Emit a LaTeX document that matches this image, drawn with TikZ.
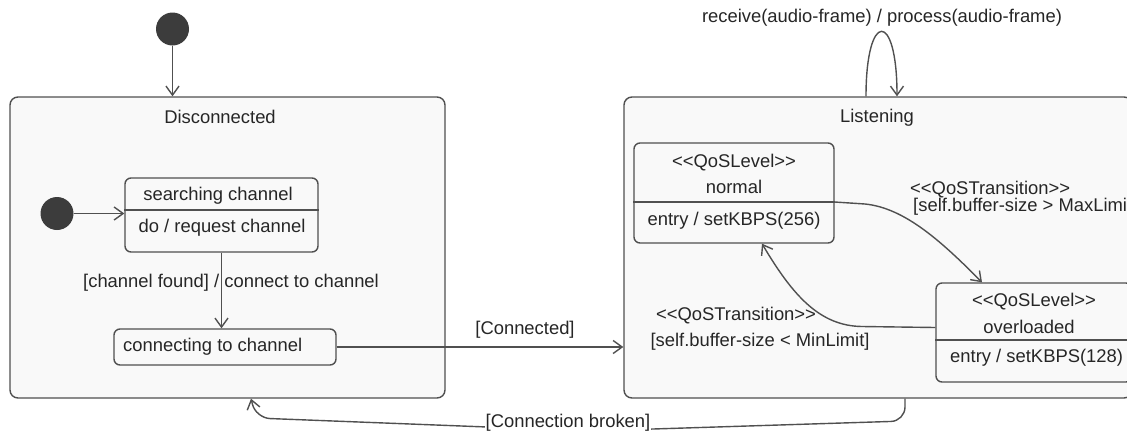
\documentclass[tikz,border=0pt]{standalone}
\usepackage{fontspec}
\setmainfont{Liberation Sans}
\usetikzlibrary{arrows.meta,calc}
\definecolor{edge}{HTML}{505050}
\definecolor{ink}{HTML}{262626}
\definecolor{boxfill}{HTML}{F9F9F9}
\definecolor{dot}{HTML}{3C3C3C}
\tikzset{
  x=1pt, y=-1pt,
  every node/.style={font=\fontsize{18.4}{21}\selectfont, text=ink, inner sep=0pt},
  statebox/.style={draw=edge, line width=1.4pt, fill=boxfill, rounded corners=8pt},
  substate/.style={draw=edge, line width=1.4pt, fill=boxfill, rounded corners=6pt},
  initdot/.style={circle, fill=dot, minimum size=33pt},
  divider/.style={draw=edge, line width=1.3pt},
  arr/.style={draw=edge, line width=1.4pt, -{Straight Barb[length=9pt,width=13pt,line width=1.4pt]}},
  lbl/.style={fill=white, inner sep=1pt},
}
\begin{document}
\begin{tikzpicture}
\useasboundingbox (0,0) rectangle (1127,432);
\clip (0,0) rectangle (1127,432);
\fill[white] (0,0) rectangle (1127,432);

% composite states
\node[statebox, minimum width=435pt, minimum height=301pt] (disc) at (227.5,247.5) {};
\node[statebox, minimum width=508pt, minimum height=301pt] (listen) at (878,247.5) {};
\node at (220,117) {Disconnected};
\node at (877,118) {Listening};

% initial pseudostates
\node[initdot] (init1) at (172.5,29) {};
\node[initdot] (init2) at (57,213.5) {};

% substates of Disconnected
\node[substate, minimum width=193pt, minimum height=74pt] (search) at (221.5,215) {};
\draw[divider] (search.west |- 0,210) -- (search.east |- 0,210);
\node at (218,196) {searching channel};
\node at (222,228) {do / request channel};

\node[substate, minimum width=222pt, minimum height=36pt] (conn) at (225,347) {};
\node[anchor=west] at (123,347) {connecting to channel};

% substates of Listening
\node[substate, minimum width=200pt, minimum height=100pt] (normal) at (734,193) {};
\draw[divider] (normal.west |- 0,202) -- (normal.east |- 0,202);
\node at (734,163) {<{}<QoSLevel>{}>};
\node at (734,187) {normal};
\node at (734,221) {entry / setKBPS(256)};

\node[substate, minimum width=196pt, minimum height=99pt] (over) at (1034,332.5) {};
\draw[divider] (over.west |- 0,340) -- (over.east |- 0,340);
\node at (1034,302) {<{}<QoSLevel>{}>};
\node at (1029,327) {overloaded};
\node[anchor=west] at (950,358) {entry / setKBPS(128)};

% transitions
\draw[arr] (init1) -- (init1 |- disc.north);
\draw[arr] (init2) -- (init2 -| search.west);
\draw[arr] (search.south) -- (search.south |- conn.north);
\node[anchor=west] at (83,283) {[channel found] / connect to channel};

\draw[arr] (conn.east) -- (conn.east -| listen.west);
\node at (525,330) {[Connected]};

\draw[arr] ($(listen.north)+(-12,0)$) .. controls (866,10) and (897,10) .. ($(listen.north)+(19,0)$);
\node at (882,18) {receive(audio-frame) / process(audio-frame)};

\draw[arr] ($(normal.east)+(0,9)$) -- (865,204) .. controls (905,208) and (942,242) .. ($(over.north)+(-52,0)$);
\node[anchor=west] at (910,190) {<{}<QoSTransition>{}>};
\node[anchor=west] at (913,207) {[self.buffer-size > MaxLimit]};

\draw[arr] ($(over.west)+(0,-5)$) -- (862,326.5) .. controls (820,326) and (793,296) .. ($(normal.south)+(28,0)$);
\node at (736,316) {<{}<QoSTransition>{}>};
\node at (760,342) {[self.buffer-size < MinLimit]};

\draw[arr, rounded corners=14pt] ($(listen.south)+(27,0)$) -- (905,421) -- (590,431) -- (256,418) -- ($(disc.south)+(23.5,0)$);
\node[lbl] at (568,423) {[Connection broken]};
\end{tikzpicture}
\end{document}
